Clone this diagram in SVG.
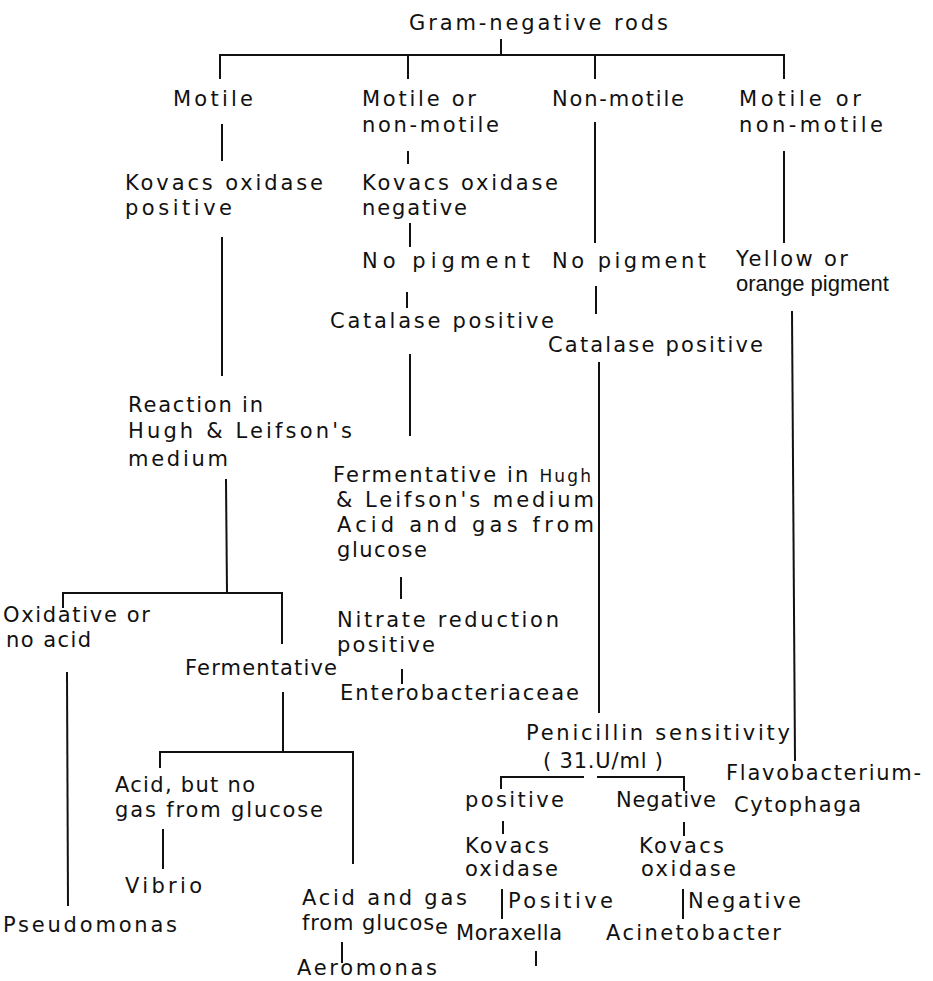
<svg xmlns="http://www.w3.org/2000/svg" width="933" height="981" viewBox="0 0 933 981">
<style>
text{font-family:"DejaVu Sans","Liberation Sans",sans-serif;font-size:21px;fill:#111}
text.n{font-family:"Liberation Sans","DejaVu Sans",sans-serif;font-size:22px}
.c line{stroke:#111;stroke-width:2;stroke-linecap:square}
</style>
<rect width="933" height="981" fill="#fff"/>
<g class="c" id="connectors">
<line x1="501" y1="40" x2="501" y2="55"/>
<line x1="220" y1="55" x2="784" y2="55"/>
<line x1="220" y1="55" x2="220" y2="78"/>
<line x1="408" y1="55" x2="408" y2="78"/>
<line x1="595" y1="55" x2="595" y2="78"/>
<line x1="784" y1="55" x2="784" y2="78"/>
<line x1="222" y1="125" x2="222" y2="160"/>
<line x1="222" y1="238" x2="222" y2="375"/>
<line x1="408" y1="152" x2="408" y2="163"/>
<line x1="410" y1="224" x2="410" y2="246"/>
<line x1="407" y1="293" x2="407" y2="307"/>
<line x1="410" y1="355" x2="410" y2="435"/>
<line x1="595" y1="123" x2="595" y2="242"/>
<line x1="596" y1="287" x2="596" y2="313"/>
<line x1="599" y1="363" x2="599" y2="712"/>
<line x1="784" y1="152" x2="784" y2="242"/>
<line x1="792" y1="312" x2="795" y2="760"/>
<line x1="226" y1="480" x2="227" y2="593"/>
<line x1="63" y1="593" x2="282" y2="593"/>
<line x1="63" y1="593" x2="63" y2="607"/>
<line x1="282" y1="593" x2="282" y2="643"/>
<line x1="67" y1="673" x2="68" y2="905"/>
<line x1="283" y1="693" x2="283" y2="752"/>
<line x1="160" y1="752" x2="353" y2="752"/>
<line x1="160" y1="752" x2="160" y2="767"/>
<line x1="353" y1="752" x2="353" y2="863"/>
<line x1="163" y1="830" x2="163" y2="868"/>
<line x1="342" y1="943" x2="342" y2="962"/>
<line x1="401" y1="578" x2="401" y2="598"/>
<line x1="402" y1="670" x2="402" y2="683"/>
<line x1="501" y1="777" x2="583" y2="777"/>
<line x1="598" y1="777" x2="684" y2="777"/>
<line x1="501" y1="777" x2="501" y2="788"/>
<line x1="684" y1="777" x2="684" y2="790"/>
<line x1="503" y1="822" x2="503" y2="833"/>
<line x1="684" y1="823" x2="684" y2="835"/>
<line x1="502" y1="890" x2="502" y2="918"/>
<line x1="683" y1="890" x2="683" y2="918"/>
<line x1="536" y1="952" x2="536" y2="965"/>
</g>
<g id="root"><text x="409" y="30" textLength="259">Gram-negative rods</text></g>
<g id="motile"><text x="173" y="106" textLength="80">Motile</text></g>
<g id="motile-or-1"><text x="362" y="106" textLength="114">Motile or</text><text x="362" y="132" textLength="137">non-motile</text></g>
<g id="non-motile"><text x="552" y="106" textLength="132">Non-motile</text></g>
<g id="motile-or-2"><text x="739" y="106" textLength="122">Motile or</text><text x="739" y="132" textLength="144">non-motile</text></g>
<g id="oxidase-pos"><text x="125" y="190" textLength="198">Kovacs oxidase</text><text x="125" y="215" textLength="107">positive</text></g>
<g id="oxidase-neg"><text x="362" y="190" textLength="196">Kovacs oxidase</text><text x="362" y="215" textLength="105">negative</text></g>
<g id="nopig-1"><text x="362" y="268" textLength="168">No  pigment</text></g>
<g id="nopig-2"><text x="552" y="268" textLength="154">No pigment</text></g>
<g id="yellow"><text x="736" y="266" textLength="112">Yellow or</text><text class="n" x="736" y="291">orange pigment</text></g>
<g id="catalase-1"><text x="330" y="328" textLength="224">Catalase positive</text></g>
<g id="catalase-2"><text x="548" y="352" textLength="215">Catalase positive</text></g>
<g id="reaction"><text x="128" y="412" textLength="135">Reaction in</text><text x="128" y="438" textLength="224">Hugh  &amp; Leifson's</text><text x="128" y="466" textLength="100">medium</text></g>
<g id="fermentative-hl"><text x="333" y="482" textLength="258">Fermentative in <tspan font-size="17">Hugh</tspan></text><text x="336" y="507" textLength="258">&amp; Leifson's medium</text><text x="337" y="532" textLength="257">Acid and gas from</text><text x="337" y="557" textLength="90">glucose</text></g>
<g id="nitrate"><text x="337" y="627" textLength="222">Nitrate reduction</text><text x="337" y="652" textLength="98">positive</text></g>
<g id="entero"><text x="340" y="700" textLength="239">Enterobacteriaceae</text></g>
<g id="oxidative"><text x="3" y="622" textLength="147">Oxidative or</text><text x="6" y="647" textLength="85">no acid</text></g>
<g id="fermentative"><text x="185" y="675" textLength="152">Fermentative</text></g>
<g id="acid-nogas"><text x="115" y="792" textLength="140">Acid, but no</text><text x="115" y="817" textLength="208">gas from glucose</text></g>
<g id="vibrio"><text x="125" y="893" textLength="77">Vibrio</text></g>
<g id="pseudomonas"><text x="3" y="932" textLength="174">Pseudomonas</text></g>
<g id="acid-gas"><text x="302" y="905" textLength="165">Acid and gas</text><text x="302" y="930" textLength="146">from glucos<tspan dy="4">e</tspan></text></g>
<g id="aeromonas"><text x="297" y="975" textLength="140">Aeromonas</text></g>
<g id="penicillin"><text x="526" y="740" textLength="264">Penicillin sensitivity</text><text x="543" y="768" textLength="120">( 31.U/ml )</text></g>
<g id="pen-pos"><text x="465" y="807" textLength="99">positive</text></g>
<g id="pen-neg"><text x="616" y="807" textLength="100">Negative</text></g>
<g id="flavo"><text x="726" y="780" textLength="195">Flavobacterium-</text><text x="734" y="812" textLength="127">Cytophaga</text></g>
<g id="kovacs-1"><text x="465" y="853" textLength="84">Kovacs</text><text x="465" y="876" textLength="93">oxidase</text></g>
<g id="kovacs-2"><text x="639" y="853" textLength="85">Kovacs</text><text x="641" y="876" textLength="95">oxidase</text></g>
<g id="lbl-positive"><text x="508" y="908" textLength="105">Positive</text></g>
<g id="lbl-negative"><text x="688" y="908" textLength="113">Negative</text></g>
<g id="moraxella"><text x="456" y="940" textLength="106">Moraxella</text></g>
<g id="acinetobacter"><text x="606" y="940" textLength="175">Acinetobacter</text></g>
</svg>
